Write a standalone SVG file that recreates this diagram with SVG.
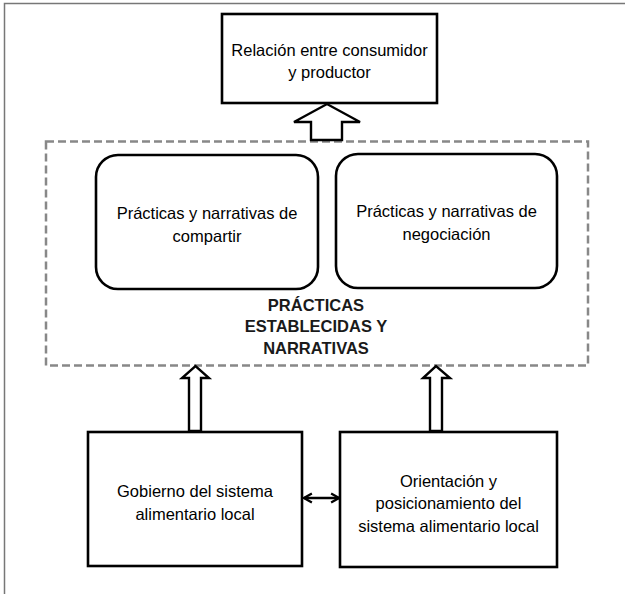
<svg xmlns="http://www.w3.org/2000/svg" width="625" height="594" viewBox="0 0 625 594">
<defs>
<style>
.box{fill:#fff;stroke:#000;stroke-width:2.6}
.txt{font-family:"Liberation Sans",Arial,sans-serif;font-size:16.5px;fill:#000;text-anchor:middle}
.bold{font-family:"Liberation Sans",Arial,sans-serif;font-size:16.5px;font-weight:bold;fill:#1a1a1a;text-anchor:middle}
.hollow{fill:#fff;stroke:#000;stroke-width:2.4;stroke-linejoin:miter}
</style>
<marker id="ah" viewBox="0 0 10 10" refX="8" refY="5" markerWidth="4.5" markerHeight="4.5" orient="auto-start-reverse" markerUnits="strokeWidth">
<polyline points="1,1 8,5 1,9" fill="none" stroke="#000" stroke-width="2"/>
</marker>
</defs>
<rect width="625" height="594" fill="#fff"/>
<path d="M4.5 594 V3.5 H625" fill="none" stroke="#777" stroke-width="1.5"/>

<g id="frame">
<rect x="46" y="141.5" width="542" height="224" fill="none" stroke="#888" stroke-width="2.5" stroke-dasharray="8 4"/>
<text class="bold" x="316" y="311">PRÁCTICAS</text>
<text class="bold" x="316" y="332">ESTABLECIDAS Y</text>
<text class="bold" x="316" y="354">NARRATIVAS</text>
</g>

<g id="connectors">
<path class="hollow" d="M311 140 V122 H294 L327 104 L360 122 H342 V140 Z"/>
<path class="hollow" d="M189 431 V378 H182 L195.5 366 L209 378 H201 V431 Z"/>
<path class="hollow" d="M430 431 V378 H423 L436 366 L450 378 H442 V431 Z"/>
<line x1="304" y1="498" x2="339" y2="498" stroke="#000" stroke-width="2.5" marker-start="url(#ah)" marker-end="url(#ah)"/>
</g>

<g id="top">
<rect class="box" x="222" y="14" width="215" height="89"/>
<text class="txt" x="329.5" y="56">Relación entre consumidor</text>
<text class="txt" x="329.5" y="78">y productor</text>
</g>

<g id="compartir">
<rect class="box" x="96" y="155" width="222" height="134" rx="22"/>
<text class="txt" x="207" y="219">Prácticas y narrativas de</text>
<text class="txt" x="207" y="242">compartir</text>
</g>

<g id="negociacion">
<rect class="box" x="336" y="154" width="221" height="134" rx="22"/>
<text class="txt" x="446.5" y="217">Prácticas y narrativas de</text>
<text class="txt" x="446.5" y="240">negociación</text>
</g>

<g id="gobierno">
<rect class="box" x="88" y="432" width="214" height="134"/>
<text class="txt" x="195" y="497">Gobierno del sistema</text>
<text class="txt" x="195" y="520">alimentario local</text>
</g>

<g id="orientacion">
<rect class="box" x="340" y="432" width="217" height="135"/>
<text class="txt" x="448.5" y="487">Orientación y</text>
<text class="txt" x="448.5" y="509">posicionamiento del</text>
<text class="txt" x="448.5" y="532">sistema alimentario local</text>
</g>
</svg>
